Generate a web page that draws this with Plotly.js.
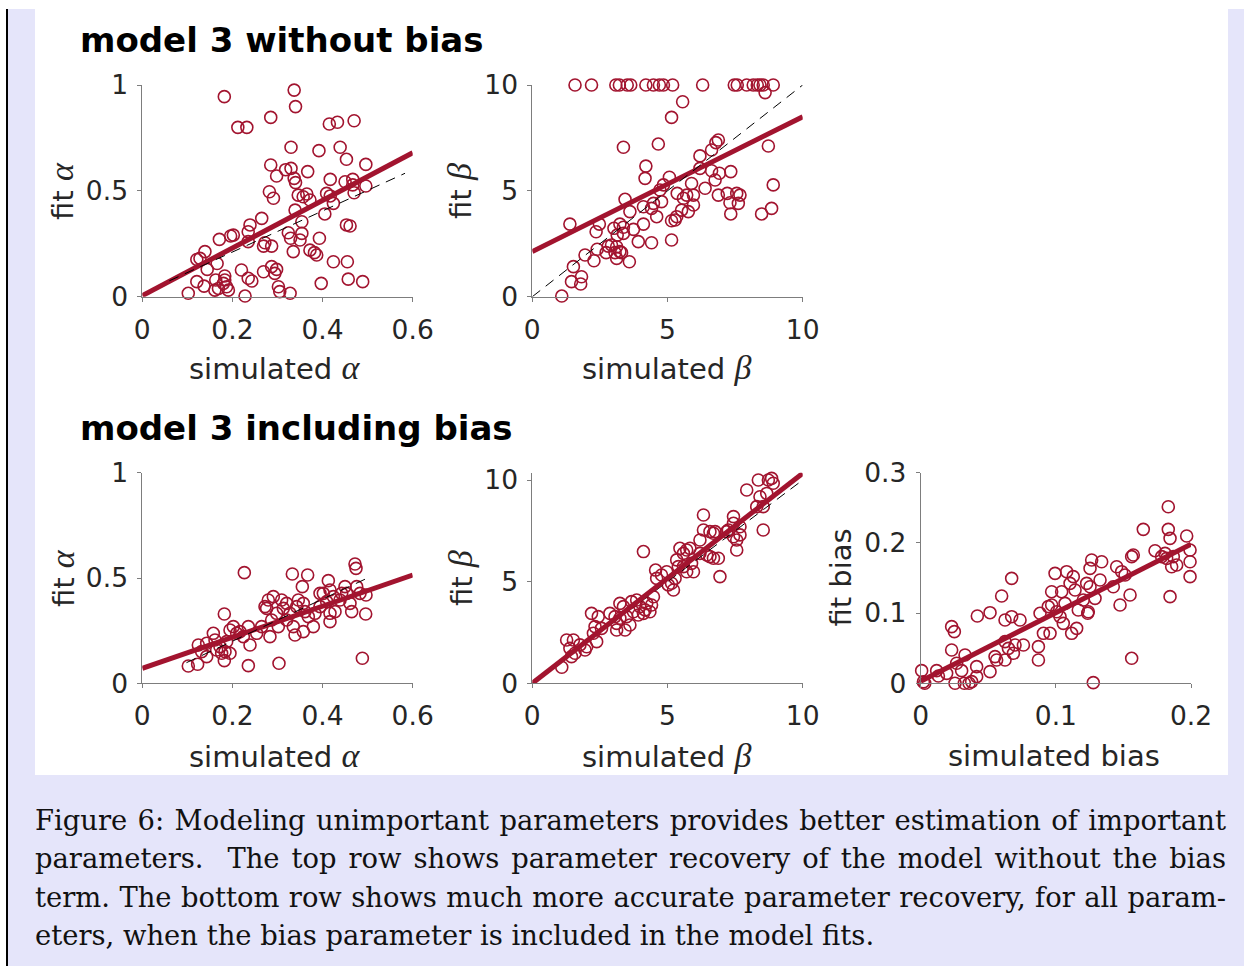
<!DOCTYPE html>
<html>
<head>
<meta charset="utf-8">
<script src="https://cdn.plot.ly/plotly-3.0.1.min.js"></script>
<style>
  html, body { margin:0; padding:0; background:#ffffff; width:1244px; height:966px; overflow:hidden; }
  #lav { position:absolute; left:8px; top:9px; width:1236px; height:957px; background:#e5e5fa; }
  #vline { position:absolute; left:6px; top:9px; width:2px; height:957px; background:#000; }
  #plot { position:absolute; left:35px; top:0px; width:1193px; height:775px; background:#fff; }
  #cap { position:absolute; left:35px; top:801.5px; width:1191px; font-family:'DejaVu Serif', serif; font-size:27.4px; line-height:38.5px; color:#111; }
  #cap div { text-align:justify; text-align-last:justify; white-space:normal; }
  #cap div.last { text-align-last:left; }
</style>
</head>
<body>
<div id="lav"></div>
<div id="vline"></div>
<div id="plot"></div>
<div id="cap">
  <div>Figure 6: Modeling unimportant parameters provides better estimation of important</div>
  <div>parameters. &nbsp;The top row shows parameter recovery of the model without the bias</div>
  <div>term. The bottom row shows much more accurate parameter recovery, for all param-</div>
  <div class="last">eters, when the bias parameter is included in the model fits.</div>
</div>
<script>
// ---------------- DATA ----------------
// Top row: model 3 without bias
const simAlphaTop = [0.417,0.473,0.182,0.337,0.340,0.212,0.232,0.285,0.415,0.433,0.470,0.330,0.392,0.439,0.453,0.496,0.285,0.318,0.330,0.298,0.367,0.337,0.340,0.417,0.450,0.467,0.282,0.291,0.346,0.357,0.365,0.372,0.409,0.417,0.424,0.470,0.467,0.496,0.339,0.405,0.265,0.239,0.235,0.354,0.354,0.350,0.324,0.329,0.393,0.453,0.461,0.202,0.196,0.171,0.272,0.287,0.269,0.235,0.335,0.372,0.382,0.387,0.139,0.128,0.121,0.166,0.144,0.424,0.455,0.220,0.287,0.298,0.294,0.269,0.235,0.243,0.183,0.183,0.180,0.187,0.191,0.169,0.163,0.121,0.137,0.161,0.102,0.228,0.302,0.305,0.328,0.397,0.457,0.489];
const fitAlphaTop = [1.005,1.005,0.945,0.976,0.898,0.800,0.800,0.847,0.816,0.824,0.831,0.706,0.690,0.706,0.649,0.625,0.622,0.600,0.606,0.570,0.591,0.559,0.539,0.554,0.543,0.554,0.496,0.465,0.480,0.472,0.485,0.457,0.488,0.476,0.441,0.491,0.528,0.523,0.409,0.391,0.370,0.339,0.307,0.354,0.299,0.268,0.302,0.276,0.276,0.339,0.334,0.291,0.287,0.271,0.255,0.239,0.239,0.260,0.213,0.220,0.208,0.197,0.213,0.181,0.176,0.157,0.129,0.165,0.165,0.126,0.142,0.129,0.110,0.118,0.087,0.074,0.098,0.079,0.063,0.047,0.031,0.039,0.079,0.071,0.050,0.031,0.016,0.003,0.047,0.024,0.016,0.063,0.083,0.071];

const simBetaTop = [1.58,2.19,3.09,3.22,3.51,3.64,4.20,4.48,4.70,4.85,5.19,6.30,7.47,7.58,7.93,8.17,8.32,8.42,8.54,8.91,
  8.61,5.56,5.15,3.37,4.66,6.88,6.79,8.73,6.63,6.20,4.20,4.17,5.07,6.20,6.63,6.92,6.76,7.34,6.39,8.91,4.85,4.72,5.89,5.71,5.96,5.59,5.36,3.43,6.88,7.21,7.56,7.68,7.31,7.62,7.34,8.48,8.85,4.48,4.41,4.60,4.11,5.96,5.77,5.52,5.34,5.15,5.28,3.61,1.39,2.36,2.48,3.02,3.24,3.37,3.14,3.37,4.11,3.74,3.92,4.41,5.15,2.40,2.73,2.93,3.12,3.06,3.24,3.12,3.30,1.95,2.28,3.59,1.52,1.45,1.82,1.79,1.09,2.81,4.78];
const fitBetaTop = [10,10,10,10,10,10,10,10,10,10,10,10,10,10,10,10,10,10,10,10,
  9.64,9.21,8.47,7.06,7.21,7.40,7.28,7.12,6.93,6.65,6.17,5.59,5.64,6.06,5.95,5.83,5.51,5.91,5.12,5.28,5.28,5.04,5.35,4.80,4.80,4.65,4.88,4.60,4.80,4.88,4.88,4.80,4.44,4.41,3.91,3.91,4.17,4.41,4.17,3.78,4.25,4.33,4.02,4.09,3.78,3.59,3.62,4.02,3.43,3.07,3.43,3.23,3.43,3.28,2.91,2.99,3.43,3.18,2.60,2.55,2.68,2.24,2.08,2.44,2.36,2.08,2.13,1.81,2.08,1.97,1.70,1.65,1.42,0.71,0.94,0.60,0.03,2.39,4.49];

// Bottom row: model 3 including bias
const simAlphaBot = [0.2264,0.4720,0.4742,0.3329,0.3669,0.4128,0.3551,0.1820,0.4883,0.3033,0.2353,0.1021,0.1228,0.1820,0.4964,0.4957,0.1243,0.1428,0.1613,0.1724,0.1835,0.1946,0.1428,0.1650,0.1872,0.1946,0.2094,0.2242,0.2353,0.2390,0.2168,0.2649,0.2723,0.2759,0.2907,0.2870,0.2833,0.2981,0.3018,0.3129,0.3203,0.3277,0.3351,0.3388,0.3425,0.3573,0.3573,0.3684,0.3795,0.3832,0.3943,0.4017,0.4091,0.4165,0.4165,0.4239,0.4276,0.4387,0.4498,0.4535,0.4609,0.4646,0.4757,0.4831,0.3610,0.3203,0.1576,0.1317,0.1761,0.2020,0.2538,0.2796,0.3092,0.3462,0.3943,0.4424,0.4165];
const fitAlphaBot = [0.5253,0.5665,0.5459,0.5190,0.5142,0.4873,0.4589,0.3291,0.1187,0.0949,0.0839,0.0823,0.0902,0.1076,0.4193,0.3291,0.1820,0.1899,0.2057,0.1741,0.1503,0.1424,0.1266,0.1582,0.1978,0.2532,0.2373,0.2215,0.2690,0.1820,0.2453,0.2690,0.3639,0.3560,0.4114,0.3006,0.2215,0.3323,0.2690,0.3560,0.3797,0.3323,0.2690,0.2294,0.3639,0.3797,0.2453,0.3165,0.2690,0.3323,0.3639,0.4272,0.3877,0.3323,0.2927,0.4114,0.3402,0.3956,0.4589,0.4272,0.3797,0.3402,0.4589,0.4272,0.3402,0.3006,0.2373,0.1503,0.1424,0.2690,0.2373,0.3956,0.3956,0.3956,0.4272,0.4272,0.4430];

const simBetaBot = [1.09,1.27,1.52,1.39,1.58,1.45,1.76,1.95,2.01,2.19,2.44,2.32,2.26,2.38,2.56,2.87,3.06,3.12,3.24,3.37,3.24,3.49,3.61,3.12,3.43,3.67,3.86,3.98,4.17,4.23,4.11,4.48,4.41,4.35,3.74,3.92,4.11,4.56,4.60,4.78,4.97,5.15,5.22,5.03,5.28,5.34,5.59,5.46,5.71,5.83,5.59,5.71,5.96,5.40,5.89,6.20,6.33,6.33,6.57,6.70,6.76,6.20,6.45,6.57,6.70,6.88,6.94,7.44,7.44,7.19,7.25,7.68,7.44,7.56,7.68,7.56,7.93,8.36,8.42,8.30,8.54,8.73,8.85,8.91,8.67,8.54];
const fitBetaBot = [0.79,2.13,2.13,1.72,1.48,1.31,1.89,1.64,1.80,3.44,3.28,2.79,2.46,2.05,2.70,3.44,3.28,2.95,3.93,3.77,3.20,3.28,2.87,2.62,2.62,4.02,4.10,3.77,3.61,3.93,3.44,4.26,3.85,3.52,3.52,3.36,6.48,5.57,5.16,5.33,5.49,4.92,4.59,4.84,5.16,6.07,6.39,6.64,6.56,6.64,5.74,5.49,5.49,5.74,5.90,7.05,8.28,7.54,7.46,7.38,7.46,6.39,6.31,6.23,6.15,6.15,5.25,8.20,7.87,7.46,7.54,7.70,7.21,7.05,7.30,6.56,9.51,10.00,9.18,8.69,8.69,10.00,10.08,9.84,9.34,7.54];

const simBias = [0.0007,0.0020,0.0030,0.0118,0.0131,0.0192,0.0229,0.0249,0.0229,0.0266,0.0254,0.0303,0.0328,0.0323,0.0358,0.0377,0.0414,0.0414,0.0419,0.0513,0.0513,0.0550,0.0562,0.0599,0.0624,0.0624,0.0649,0.0624,0.0673,0.0673,0.0698,0.0686,0.0735,0.0760,0.0871,0.0871,0.0883,0.0908,0.0957,0.0969,0.0969,0.0994,0.1006,0.1031,0.1043,0.1068,0.1080,0.1055,0.1117,0.1154,0.1129,0.1105,0.1142,0.1166,0.1203,0.1228,0.1236,0.1253,0.1240,0.1265,0.1253,0.1290,0.1327,0.1339,0.1277,0.1425,0.1450,0.1475,0.1487,0.1512,0.1549,0.1561,0.1573,0.1561,0.1647,0.1734,0.1783,0.1820,0.1832,0.1832,0.1845,0.1845,0.1857,0.1894,0.1968,0.1993,0.1993,0.1993,0.1808,0.1869,0.0944];
const fitBias = [0.0180,0.0020,0.0000,0.0180,0.0104,0.0142,0.0807,0.0736,0.0475,0.0285,0.0000,0.0180,0.0403,0.0000,0.0000,0.0024,0.0237,0.0095,0.0959,0.1006,0.0166,0.0380,0.0332,0.1243,0.0902,0.0593,0.0498,0.0332,0.1495,0.0949,0.0546,0.0427,0.0902,0.0546,0.0522,0.0332,0.0997,0.0712,0.0712,0.1305,0.1115,0.1566,0.1020,0.0949,0.1305,0.1139,0.1590,0.0854,0.0712,0.0783,0.1519,0.1424,0.1329,0.1044,0.1187,0.1424,0.0997,0.1376,0.1020,0.1756,0.1637,0.1210,0.1471,0.1732,0.0009,0.1376,0.1661,0.1115,0.1590,0.1542,0.1258,0.1804,0.1827,0.0356,0.2193,0.1889,0.1804,0.1780,0.2515,0.2193,0.2065,0.1234,0.1661,0.1685,0.2098,0.1898,0.1732,0.1519,0.1851,0.1804,0.1092];

// Linear-fit lines (end points)
const regAlphaTopX = [0, 0.6],  regAlphaTopY = [0.005, 0.680];
const regBetaTopX  = [0, 10],   regBetaTopY  = [2.13, 8.50];
const regAlphaBotX = [0, 0.6],  regAlphaBotY = [0.071, 0.514];
const regBetaBotX  = [0, 10],   regBetaBotY  = [0.0, 10.33];
const regBiasX     = [0, 0.2],  regBiasY     = [0.003, 0.198];
// Identity (dashed) reference lines
const idAlphaTopX = [0.06, 0.583], idAlphaTopY = [0.075, 0.583];
const idBetaTopX  = [0, 10],       idBetaTopY  = [0, 10];
const idAlphaBotX = [0.098, 0.498], idAlphaBotY = [0.098, 0.498];
const idBetaBotX  = [0, 10],       idBetaBotY  = [0, 10];

// Tick labels
const alphaXTicks = [0, 0.2, 0.4, 0.6], alphaXText = ['0','0.2','0.4','0.6'];
const alphaYTicks = [0, 0.5, 1],       alphaYText = ['0','0.5','1'];
const betaTicks   = [0, 5, 10],        betaText   = ['0','5','10'];
const biasXTicks  = [0, 0.1, 0.2],     biasXText  = ['0','0.1','0.2'];
const biasYTicks  = [0, 0.1, 0.2, 0.3], biasYText = ['0','0.1','0.2','0.3'];

// ---------------- STYLE ----------------
const RED = '#a2142f';
const AXC = '#7d7d7d';
const SANS = 'DejaVu Sans, Verdana, sans-serif';
const tickFont = {family: SANS, size: 26.5, color: '#262626'};

function scatter(x, y, xa, ya) {
  return {x: x, y: y, xaxis: xa, yaxis: ya, type: 'scatter', mode: 'markers', cliponaxis: false,
    hoverinfo: 'skip',
    marker: {symbol: 'circle-open', size: 12, color: RED, line: {width: 1.6, color: RED}}};
}
function fitLine(x, y, xa, ya) {
  return {x: x, y: y, xaxis: xa, yaxis: ya, type: 'scatter', mode: 'lines', cliponaxis: false,
    hoverinfo: 'skip', line: {color: RED, width: 5}};
}
function idLine(x, y, xa, ya) {
  return {x: x, y: y, xaxis: xa, yaxis: ya, type: 'scatter', mode: 'lines', cliponaxis: false,
    hoverinfo: 'skip', line: {color: '#000', width: 1, dash: '10px,7px'}};
}

const traces = [
  scatter(simAlphaTop, fitAlphaTop, 'x', 'y'),
  fitLine(regAlphaTopX, regAlphaTopY, 'x', 'y'),
  idLine(idAlphaTopX, idAlphaTopY, 'x', 'y'),
  scatter(simBetaTop, fitBetaTop, 'x2', 'y2'),
  fitLine(regBetaTopX, regBetaTopY, 'x2', 'y2'),
  idLine(idBetaTopX, idBetaTopY, 'x2', 'y2'),
  scatter(simAlphaBot, fitAlphaBot, 'x3', 'y3'),
  fitLine(regAlphaBotX, regAlphaBotY, 'x3', 'y3'),
  idLine(idAlphaBotX, idAlphaBotY, 'x3', 'y3'),
  scatter(simBetaBot, fitBetaBot, 'x4', 'y4'),
  idLine(idBetaBotX, idBetaBotY, 'x4', 'y4'),
  fitLine(regBetaBotX, regBetaBotY, 'x4', 'y4'),
  scatter(simBias, fitBias, 'x5', 'y5'),
  fitLine(regBiasX, regBiasY, 'x5', 'y5')
];

function axis(domain, range, anchor, vals, text, isX) {
  return {domain: domain, range: range, anchor: anchor, tickmode: 'array', tickvals: vals, ticktext: text,
    showline: true, linecolor: AXC, linewidth: 1, ticks: 'outside', ticklen: 4, tickwidth: 1, tickcolor: AXC,
    showgrid: false, zeroline: false, tickfont: tickFont, ticklabelstandoff: isX ? 5 : 4,
    ticklabelshift: isX ? 0 : -2.5, fixedrange: true};
}

const W = 1193, H = 775, OX = 35;
const px = v => (v - OX) / W;          // page x -> paper
const py = v => 1 - v / H;             // page y -> paper

const dxA = [px(142.3), px(412.7)], dxB = [px(532.3), px(802.7)], dxC = [px(920.7), px(1191)];
const dyTop = [py(296.7), py(85)], dyBot = [py(683.3), py(472.7)];

const greek = s => '<span style="font-family:Liberation Serif, serif;font-size:34px"><i>' + s + '</i></span>';
const labFont = {family: SANS, size: 29, color: '#262626'};
const ttlFont = {family: SANS, size: 34, color: '#000', weight: 'bold'};

function ann(text, x, y, font, rot) {
  return {text: text, xref: 'paper', yref: 'paper', x: x, y: y, xanchor: 'center', yanchor: 'middle',
    showarrow: false, font: font, textangle: rot || 0};
}

const annotations = [
  {text: 'model 3 without bias', xref: 'paper', yref: 'paper', x: px(78), y: py(40.5), xanchor: 'left', yanchor: 'middle', showarrow: false, font: ttlFont},
  {text: 'model 3 including bias', xref: 'paper', yref: 'paper', x: px(78), y: py(428), xanchor: 'left', yanchor: 'middle', showarrow: false, font: ttlFont},
  ann('simulated ' + greek('α'), px(275), py(367.5), labFont),
  ann('simulated ' + greek('β'), px(666), py(367.5), labFont),
  ann('simulated ' + greek('α'), px(275), py(755.5), labFont),
  ann('simulated ' + greek('β'), px(666), py(755.5), labFont),
  ann('simulated bias', px(1054), py(755.5), labFont),
  ann('fit ' + greek('α'), px(62), py(190.9), labFont, -90),
  ann('fit ' + greek('β'), px(460), py(190.9), labFont, -90),
  ann('fit ' + greek('α'), px(62), py(578), labFont, -90),
  ann('fit ' + greek('β'), px(460), py(578), labFont, -90),
  ann('fit bias', px(840.5), py(578), labFont, -90)
];

const layout = {
  width: W, height: H, margin: {l: 0, r: 0, t: 0, b: 0},
  paper_bgcolor: '#ffffff', plot_bgcolor: 'rgba(0,0,0,0)', showlegend: false,
  xaxis:  axis(dxA, [0, 0.6], 'y',  alphaXTicks, alphaXText, true),
  yaxis:  axis(dyTop, [0, 1], 'x',  alphaYTicks, alphaYText, false),
  xaxis2: axis(dxB, [0, 10], 'y2', betaTicks, betaText, true),
  yaxis2: axis(dyTop, [0, 10], 'x2', betaTicks, betaText, false),
  xaxis3: axis(dxA, [0, 0.6], 'y3', alphaXTicks, alphaXText, true),
  yaxis3: axis(dyBot, [0, 1], 'x3', alphaYTicks, alphaYText, false),
  xaxis4: axis(dxB, [0, 10], 'y4', betaTicks, betaText, true),
  yaxis4: axis(dyBot, [0, 10.36], 'x4', betaTicks, betaText, false),
  xaxis5: axis(dxC, [0, 0.2], 'y5', biasXTicks, biasXText, true),
  yaxis5: axis(dyBot, [0, 0.3], 'x5', biasYTicks, biasYText, false),
  annotations: annotations
};

Plotly.newPlot('plot', traces, layout, {staticPlot: true, displayModeBar: false});
</script>
</body>
</html>
